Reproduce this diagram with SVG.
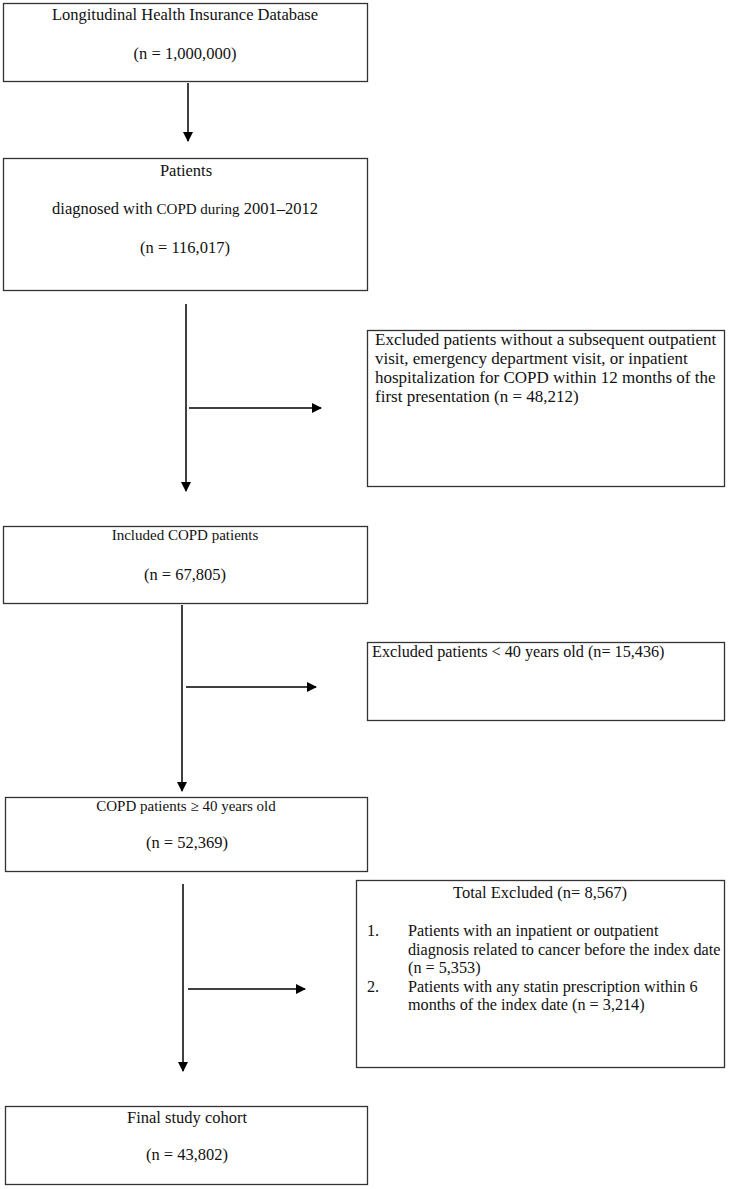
<svg xmlns="http://www.w3.org/2000/svg" width="746" height="1189" viewBox="0 0 746 1189">
<style>
.box{fill:#fff;stroke:#333;stroke-width:1.3}
.t{font-family:"Liberation Serif","Times New Roman",serif;font-size:16.5px;fill:#111}
.c{text-anchor:middle}
.s{font-size:15px}
.l{font-size:17px}
.m{font-size:16.2px}
.ln{stroke:#000;stroke-width:1.5;fill:none}
</style>
<defs>
<marker id="ah" markerWidth="10" markerHeight="10" refX="9" refY="5" orient="auto" markerUnits="userSpaceOnUse">
<path d="M0,0 L10,5 L0,10 Z" fill="#000"/>
</marker>
</defs>
<rect width="746" height="1189" fill="#fff"/>
<g id="connectors">
<line class="ln" x1="188" y1="83" x2="188" y2="141" marker-end="url(#ah)"/>
<line class="ln" x1="186" y1="304" x2="186" y2="491" marker-end="url(#ah)"/>
<line class="ln" x1="189" y1="408" x2="321" y2="408" marker-end="url(#ah)"/>
<line class="ln" x1="182" y1="605" x2="182" y2="791" marker-end="url(#ah)"/>
<line class="ln" x1="186" y1="687" x2="316" y2="687" marker-end="url(#ah)"/>
<line class="ln" x1="183" y1="884" x2="183" y2="1071" marker-end="url(#ah)"/>
<line class="ln" x1="188" y1="989" x2="305" y2="989" marker-end="url(#ah)"/>
</g>
<g id="n1">
<rect class="box" x="3.5" y="3.5" width="364" height="78"/>
<text class="t c" x="185" y="20">Longitudinal Health Insurance Database</text>
<text class="t c" x="185" y="59">(n = 1,000,000)</text>
</g>
<g id="n2">
<rect class="box" x="3.5" y="158.5" width="364" height="132"/>
<text class="t c" x="186" y="176">Patients</text>
<text class="t c" x="185" y="214">diagnosed with <tspan class="s">COPD during</tspan> 2001–2012</text>
<text class="t c" x="185" y="253">(n = 116,017)</text>
</g>
<g id="x1">
<rect class="box" x="367.5" y="330.5" width="357" height="156"/>
<text class="t l" x="375" y="345">Excluded patients without a subsequent outpatient</text>
<text class="t l" x="375" y="364">visit, emergency department visit, or inpatient</text>
<text class="t l" x="375" y="383">hospitalization for COPD within 12 months of the</text>
<text class="t l" x="375" y="402">first presentation (n = 48,212)</text>
</g>
<g id="n3">
<rect class="box" x="3.5" y="526.5" width="364" height="77"/>
<text class="t c s" x="185" y="540">Included COPD patients</text>
<text class="t c" x="185" y="580">(n = 67,805)</text>
</g>
<g id="x2">
<rect class="box" x="367.5" y="642.5" width="357" height="78"/>
<text class="t m" x="372" y="657">Excluded patients &lt; 40 years old (n= 15,436)</text>
</g>
<g id="n4">
<rect class="box" x="5.5" y="797.5" width="362" height="74"/>
<text class="t c s" x="186" y="811">COPD patients ≥ 40 years old</text>
<text class="t c" x="187" y="848">(n = 52,369)</text>
</g>
<g id="x3">
<rect class="box" x="356.5" y="880.5" width="368" height="187"/>
<text class="t c" x="540" y="898">Total Excluded (n= 8,567)</text>
<text class="t m" x="367" y="936">1.</text>
<text class="t m" x="408" y="936">Patients with an inpatient or outpatient</text>
<text class="t m" x="408" y="954.5">diagnosis related to cancer before the index date</text>
<text class="t m" x="408" y="973">(n = 5,353)</text>
<text class="t m" x="367" y="991.5">2.</text>
<text class="t m" x="408" y="991.5">Patients with any statin prescription within 6</text>
<text class="t m" x="408" y="1010">months of the index date (n = 3,214)</text>
</g>
<g id="n5">
<rect class="box" x="5.5" y="1106.5" width="362" height="78"/>
<text class="t c" x="187" y="1123">Final study cohort</text>
<text class="t c" x="187" y="1160">(n = 43,802)</text>
</g>
</svg>
